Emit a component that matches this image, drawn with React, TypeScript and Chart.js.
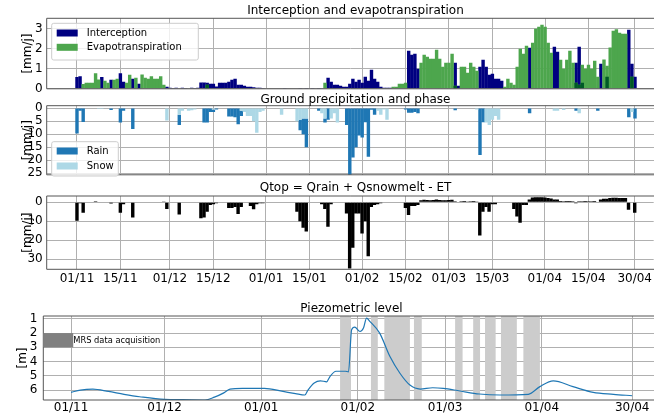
import React, { useEffect, useRef } from "react";
import { Chart, registerables } from "chart.js";

Chart.register(...registerables);

const FONT = "'DejaVu Sans', sans-serif";

// ---------------- data (day index 0 = 01/11) ----------------
const INTERCEPTION = [
  0.59, 0.63, 0, 0, 0, 0, 0, 0, 0.59, 0,
  0, 0.45, 0, 0, 0.78, 0.35, 0, 0, 0.5, 0,
  0.25, 0, 0, 0, 0, 0, 0, 0, 0, 0.1,
  0.05, 0.04, 0.05, 0.03, 0.05, 0.04, 0.03, 0.05, 0.04, 0.05,
  0.32, 0.32, 0.3, 0.25, 0.25, 0.12, 0.3, 0.3, 0.3, 0.35,
  0.45, 0.5, 0.2, 0.2, 0.15, 0.1, 0.1, 0.08, 0.05, 0.05,
  0.04, 0.03, 0.03, 0, 0.03, 0.03, 0, 0.04, 0.03, 0,
  0.03, 0.03, 0.02, 0.03, 0.02, 0.03, 0.02, 0.03, 0.02, 0.03,
  0, 0.55, 0.35, 0.2, 0.2, 0.15, 0.1, 0.1, 0.25, 0.5,
  0.35, 0.45, 0.3, 0.6, 0.4, 0.95, 0.5, 0.35, 0.1, 0.05,
  0.05, 0.05, 0, 0, 0, 0, 0, 1.9, 1.7, 1.75,
  1.0, 0, 0, 0, 0, 0, 0, 0, 0, 0,
  0, 0, 1.3, 0.15, 0, 0, 0, 0, 0, 0,
  1.1, 1.45, 1.1, 0.7, 0.75, 0.5, 0.5, 0.4, 0, 0,
  0, 0, 0, 0, 0, 0, 2.05, 0, 0, 0,
  0, 0, 0, 0, 2.1, 1.85, 0, 0, 0, 0,
  0, 1.3, 2.1, 0.3, 0, 0, 0, 0, 0, 1.25,
  0, 0.6, 0, 0, 0, 0, 0, 0, 2.95, 1.25,
  0.6,
];

const EVAPOTRANSPIRATION = [
  0, 0, 0.24, 0.3, 0.3, 0.3, 0.78, 0.46, 0, 0.4,
  0.3, 0, 0.45, 0.5, 0, 0, 0.3, 0.7, 0, 0.55,
  0, 0.72, 0.55, 0.5, 0.63, 0.5, 0.5, 0.63, 0.2, 0,
  0, 0, 0, 0, 0, 0, 0, 0, 0, 0,
  0, 0, 0.2, 0, 0, 0, 0, 0, 0, 0,
  0, 0, 0, 0, 0, 0, 0, 0, 0, 0,
  0, 0, 0, 0, 0, 0, 0, 0, 0, 0,
  0, 0, 0, 0, 0, 0, 0, 0, 0, 0,
  0.3, 0, 0, 0, 0, 0, 0, 0, 0, 0,
  0, 0, 0, 0, 0, 0, 0, 0, 0, 0,
  0, 0, 0.1, 0.1, 0.25, 0.25, 0.3, 0, 0, 0,
  0, 1.3, 1.7, 1.6, 1.5, 1.5, 1.95, 1.5, 1.1, 1.3,
  1.3, 1.75, 0.15, 0, 1.1, 1.1, 0.8, 1.3, 1.1, 0.9,
  0, 0, 0, 0, 0, 0, 0, 0, 0.1, 0.5,
  0.3, 0.2, 1.1, 2.0, 1.75, 2.15, 0, 2.3, 3.0, 3.1,
  3.2, 3.1, 2.3, 1.8, 0, 0, 1.45, 1.0, 1.45, 1.9,
  1.3, 0.3, 0.2, 1.2, 1.0, 1.2, 1.0, 1.4, 0.6, 0,
  1.46, 1.15, 2.06, 2.9, 2.97, 2.8, 2.75, 2.75, 0, 0.6,
  0,
];

const RAIN = [
  9.7, 1, 5.3, 0, 0, 0, 0, 0, 0, 0,
  0, 0.7, 0, 0, 5.5, 1, 0, 0, 8, 0,
  0, 0, 0, 0, 0, 0, 0, 0, 0, 0,
  0, 0, 0, 4, 0, 0, 0, 0, 0, 0,
  0, 5.5, 5.5, 1.5, 1, 0.5, 0, 0, 0, 3.2,
  3.2, 3.5, 6.2, 2, 0, 0, 0, 0, 0, 0,
  0, 0, 0, 0, 0, 0, 0, 0, 0, 0,
  0, 0, 4, 6, 11, 0, 0, 0, 1, 0,
  1.5, 4.5, 0, 0, 0, 0, 0, 6.5, 25.8, 19,
  15, 10.5, 11.3, 5.4, 18.7, 0.6, 2.5, 0, 0, 0,
  0, 0, 0, 0, 0, 0, 0.5, 1.8, 1.8, 1.5,
  2, 0, 0, 0, 0, 0, 0, 0, 0, 0,
  0, 0, 0.8, 0, 0, 0, 0, 0, 0, 0,
  18, 5.4, 0, 0, 0, 0, 0, 0, 0, 0,
  0, 0, 0, 0, 0, 0, 2, 0, 0, 0,
  0, 0, 0, 0, 0, 0, 0, 0, 0, 0,
  0, 1, 0, 0, 0, 0, 0, 0, 1, 0,
  0, 0, 0, 0, 0, 0, 0, 0, 3.5, 0,
  4,
];

const SNOW_DAYS = [7, 8, 29, 33, 34, 36, 37, 38, 44, 53, 54, 55, 56, 57, 58, 59, 60, 66, 71, 72, 73, 74, 79, 80, 82, 83, 84, 97, 98, 99, 100, 129, 132, 133, 134, 135, 136, 154, 155, 157, 162, 179];
const SNOW_VALUES = [0.3, 0.3, 4.8, 2.5, 1, 1, 0.8, 0.5, 0.5, 1, 1.5, 3, 3, 5, 9.5, 1.5, 1, 2.5, 5, 4.5, 4, 4, 2, 4, 4, 2, 5.5, 1, 2.5, 0.5, 4.5, 0.5, 5.5, 6.5, 4.5, 3, 4.5, 1, 1, 0.7, 2, 1.5];

const QTOP = [
  9.8, 0.5, 5.5, 0, 0, 0, -0.5, -0.3, -0.3, -0.3,
  -0.3, 0.7, -0.3, -0.3, 5.5, 1, -0.3, -0.3, 8, -0.2,
  -0.2, -0.3, -0.3, -0.2, -0.3, -0.2, -0.3, -0.2, -0.1, 3.5,
  0, 0, 0, 6.5, 0, 0, 0, 0, 0, 0,
  8.5, 8, 5, 1.5, 1, 0.5, 0, 0, 0, 3,
  3, 2.5, 6.2, 2.5, 0, 0, 2, 3.7, 1, 0.5,
  0.5, 0, 0, 0, 0, 0, 0, 0, 0, 0,
  0, 5, 10, 13.5, 15.5, 0, 0, 0, 0, 1,
  3.5, 13, 1, 0, 0, 0, 0, 6, 35, 24,
  6, 6, 16.5, 10, 28.5, 2.5, 1.5, 1, 0.5, 0.3,
  0, 0, 0, 0, 0, 0, 3, 6.7, 2, 2,
  1.5, -1, -1.3, -1.2, -1.1, -1.2, -1.4, -1.2, -1, -1.1,
  -1.2, -1.3, -0.5, -0.3, -0.5, -0.6, -0.4, -0.5, -0.6, -0.4,
  17.5, 5, 2.5, 5, 1, 1, 0, 0, 0.3, 0,
  0, 3.5, 7.5, 10.8, 1.5, 1.5, -1.5, -2.5, -2.6, -2.6,
  -2.6, -2.5, -2.3, -2, -1.5, -1.5, -0.7, -0.5, -0.7, -0.7,
  -0.5, 0.5, -0.5, -0.5, -0.6, -0.5, -0.5, -0.6, -0.3, -1.5,
  -1.8, -1.8, -2.3, -2.4, -2.4, -2.3, -2.3, -2.3, 4, 0,
  5.5,
];

const PIEZO_DAYS = [0, 3, 7, 12, 17, 22, 30, 36, 43, 46, 49, 51, 55, 62, 68, 72, 75, 76, 78, 80, 82, 83, 85, 88, 89, 90, 91, 92.7, 93.8, 94.8, 95.9, 99, 102.3, 105.5, 108.7, 112, 116, 119.4, 124.8, 131, 137.6, 146.7, 150.4, 154.7, 161, 167.5, 174, 180];
const PIEZO_LEVEL = [6.16, 6.0, 5.93, 6.1, 6.3, 6.47, 6.66, 6.68, 6.7, 6.5, 6.2, 5.93, 5.88, 5.88, 6.1, 6.25, 6.35, 6.0, 5.5, 5.35, 5.42, 5.07, 4.68, 4.68, 4.72, 1.77, 1.58, 1.89, 1.65, 0.95, 1.19, 2.0, 3.65, 4.82, 5.65, 5.93, 5.84, 5.88, 6.07, 6.28, 6.35, 6.3, 5.76, 5.36, 5.76, 6.16, 6.3, 6.4];

const BAND_START = [86.3, 96.2, 100.5, 110, 123.2, 129, 132.8, 137.9, 145.1];
const BAND_END = [89.8, 98.4, 108.7, 112.5, 125.6, 131.2, 136.2, 143, 150.4];

const TOP_TICK_DAYS = [0, 14, 30, 44, 61, 75, 92, 106, 120, 134, 151, 165, 180];
const TOP_TICK_LABELS = ["01/11", "15/11", "01/12", "15/12", "01/01", "15/01", "01/02", "15/02", "01/03", "15/03", "01/04", "15/04", "30/04"];
const PIEZO_TICK_DAYS = [0, 30, 61, 92, 120, 151, 180];
const PIEZO_TICK_LABELS = ["01/11", "01/12", "01/01", "01/02", "01/03", "01/04", "30/04"];

const Y_TICKS_ET = [0, 1, 2, 3];
const Y_TICKS_PRECIP = [0, 5, 10, 15, 20, 25];
const Y_TICKS_QTOP = [0, 10, 20, 30];
const Y_TICKS_PIEZO = [1, 2, 3, 4, 5, 6];

// ---------------- styling ----------------
const GRID = "#b0b0b0";
const FRAME = "#555555";
const NAVY = "#000080";
const GREEN = "rgb(77,166,77)";
const DARK_GREEN = "rgb(0,90,38)";
const RAIN_C = "#1f77b4";
const SNOW_C = "#add8e6";

const DAYS = INTERCEPTION.map((_, i) => i);
const SNOW = DAYS.map((d) => {
  const k = SNOW_DAYS.indexOf(d);
  return k >= 0 ? SNOW_VALUES[k] : 0;
});
// part where the translucent ET bar overlaps the interception bar
const OVERLAP = DAYS.map((d) => Math.min(INTERCEPTION[d], EVAPOTRANSPIRATION[d]));
const pts = (arr: number[]) => arr.map((v, i) => ({ x: i, y: v }));

type LegendSpec = {
  x: number; y: number; w: number; h: number; rows: number[];
  items: { label: string; color: string }[];
};
type Deco = {
  title: string; titleX: number; titleY: number;
  yLabel: string; yLabelX: number;
  legend?: LegendSpec;
  bands?: boolean;
  mrs?: boolean;
};

function makeDecor(d: Deco) {
  return {
    id: "decor",
    beforeDatasetsDraw(chart: any) {
      if (!d.bands) return;
      const { ctx, chartArea: a } = chart;
      const xs = chart.scales.x;
      ctx.save();
      ctx.fillStyle = "#cccccc";
      BAND_START.forEach((s, i) => {
        const x0 = xs.getPixelForValue(s);
        const x1 = xs.getPixelForValue(BAND_END[i]);
        ctx.fillRect(x0, a.top, x1 - x0, a.bottom - a.top);
      });
      ctx.restore();
    },
    afterDraw(chart: any) {
      const { ctx, chartArea: a } = chart;
      ctx.save();
      ctx.strokeStyle = FRAME;
      ctx.lineWidth = 1;
      ctx.beginPath();
      ctx.moveTo(a.right + 5, a.top);
      ctx.lineTo(a.left, a.top);
      ctx.lineTo(a.left, a.bottom);
      ctx.lineTo(a.right + 5, a.bottom);
      ctx.stroke();

      ctx.fillStyle = "#000";
      ctx.font = `12px ${FONT}`;
      ctx.textAlign = "center";
      ctx.textBaseline = "middle";
      ctx.fillText(d.title, d.titleX, d.titleY);

      ctx.save();
      ctx.translate(d.yLabelX, (a.top + a.bottom) / 2);
      ctx.rotate(-Math.PI / 2);
      ctx.fillText(d.yLabel, 0, 0);
      ctx.restore();

      if (d.mrs) {
        const xs = chart.scales.x;
        const ys = chart.scales.y;
        const x0 = a.left;
        const x1 = xs.getPixelForValue(0.7);
        const y0 = ys.getPixelForValue(2);
        const y1 = ys.getPixelForValue(3);
        ctx.fillStyle = "#808080";
        ctx.fillRect(x0, y0, x1 - x0, y1 - y0);
        ctx.fillStyle = "#000";
        ctx.font = `8.3px ${FONT}`;
        ctx.textAlign = "left";
        ctx.fillText("MRS data acquisition", x1, ys.getPixelForValue(2.55));
      }

      if (d.legend) {
        const L = d.legend;
        ctx.fillStyle = "rgba(255,255,255,0.8)";
        ctx.strokeStyle = "#cccccc";
        ctx.lineWidth = 1;
        ctx.beginPath();
        (ctx as any).roundRect(L.x, L.y, L.w, L.h, 2);
        ctx.fill();
        ctx.stroke();
        ctx.font = `10px ${FONT}`;
        ctx.textAlign = "left";
        ctx.textBaseline = "middle";
        L.items.forEach((it, i) => {
          const cy = L.rows[i];
          ctx.fillStyle = it.color;
          ctx.fillRect(L.x + 5, cy - 3.5, 21, 7);
          ctx.fillStyle = "#000";
          ctx.fillText(it.label, L.x + 35, cy);
        });
      }
      ctx.restore();
    },
  };
}

type Spec = {
  type: "bar" | "line";
  datasets: any[];
  plotTop: number; plotLeft: number; xHeight: number;
  xmin: number; xmax: number; ymin: number; ymax: number; reverse: boolean;
  xTicks: number[]; xLabels: string[]; showXLabels: boolean; xPad: number;
  yTicks: number[]; yPad: number; stacked?: boolean;
  decor: Deco;
};

function makeChart(canvas: HTMLCanvasElement, s: Spec) {
  const tickFont = { size: 12, family: FONT };
  return new Chart(canvas, {
    type: s.type,
    data: { datasets: s.datasets },
    options: {
      responsive: false,
      animation: false,
      devicePixelRatio: 1,
      events: [],
      layout: { padding: { top: s.plotTop, left: 0, right: 0, bottom: 0 }, autoPadding: false },
      plugins: { legend: { display: false }, tooltip: { enabled: false }, title: { display: false } },
      scales: {
        x: {
          type: "linear",
          min: s.xmin,
          max: s.xmax,
          offset: false,
          stacked: !!s.stacked,
          afterBuildTicks: (sc: any) => {
            sc.ticks = s.xTicks.map((v) => ({ value: v }));
          },
          afterFit: (sc: any) => {
            sc.height = s.xHeight;
          },
          grid: { color: GRID, lineWidth: 1, drawTicks: false, offset: false },
          border: { display: false },
          ticks: {
            display: s.showXLabels,
            padding: s.xPad,
            font: tickFont,
            color: "#000",
            maxRotation: 0,
            minRotation: 0,
            autoSkip: false,
            callback: (_v: any, i: number) => s.xLabels[i],
          },
        },
        y: {
          type: "linear",
          min: s.ymin,
          max: s.ymax,
          reverse: s.reverse,
          stacked: !!s.stacked,
          afterBuildTicks: (sc: any) => {
            sc.ticks = s.yTicks.map((v) => ({ value: v }));
          },
          afterFit: (sc: any) => {
            sc.width = s.plotLeft;
          },
          grid: { color: GRID, lineWidth: 1, drawTicks: false },
          border: { display: false },
          ticks: {
            padding: s.yPad,
            font: tickFont,
            color: "#000",
            autoSkip: false,
            callback: (v: any) => String(v),
          },
        },
      },
    } as any,
    plugins: [makeDecor(s.decor) as any],
  });
}

const barBase = { borderWidth: 0, barPercentage: 1.1, categoryPercentage: 1, grouped: false };

const TOP_X = { xmin: -9.77, xmax: 186.13, xTicks: TOP_TICK_DAYS, xLabels: TOP_TICK_LABELS };

export default function App() {
  const c1 = useRef<HTMLCanvasElement>(null);
  const c2 = useRef<HTMLCanvasElement>(null);
  const c3 = useRef<HTMLCanvasElement>(null);
  const c4 = useRef<HTMLCanvasElement>(null);

  useEffect(() => {
    const charts: Chart[] = [];
    charts.push(
      makeChart(c1.current!, {
        type: "bar",
        datasets: [
          { ...barBase, label: "overlap", data: pts(OVERLAP), backgroundColor: DARK_GREEN },
          { ...barBase, label: "Evapotranspiration", data: pts(EVAPOTRANSPIRATION), backgroundColor: GREEN },
          { ...barBase, label: "Interception", data: pts(INTERCEPTION), backgroundColor: NAVY },
        ],
        plotTop: 18.3, plotLeft: 46.7, xHeight: 100 - 92.3,
        ...TOP_X, showXLabels: false, xPad: 0,
        ymin: 0, ymax: 3.52, reverse: false, yTicks: Y_TICKS_ET, yPad: 4,
        decor: {
          title: "Interception and evapotranspiration", titleX: 355.5, titleY: 11,
          yLabel: "[mm/j]", yLabelX: 27.5,
          legend: {
            x: 51.7, y: 23.3, w: 146.6, h: 36.7, rows: [33, 47.3],
            items: [
              { label: "Interception", color: NAVY },
              { label: "Evapotranspiration", color: GREEN },
            ],
          },
        },
      })
    );
    charts.push(
      makeChart(c2.current!, {
        type: "bar",
        datasets: [
          { ...barBase, label: "Snow", data: pts(SNOW), backgroundColor: SNOW_C },
          { ...barBase, label: "Rain", data: pts(RAIN), backgroundColor: RAIN_C },
        ],
        stacked: true,
        plotTop: 17.7, plotLeft: 46.7, xHeight: 98 - 92,
        ...TOP_X, showXLabels: false, xPad: 0,
        ymin: -0.93, ymax: 25.6, reverse: true, yTicks: Y_TICKS_PRECIP, yPad: 4,
        decor: {
          title: "Ground precipitation and phase", titleX: 355.5, titleY: 12,
          yLabel: "[mm/j]", yLabelX: 27.5,
          legend: {
            x: 51.7, y: 53.7, w: 66.6, h: 34.3, rows: [63, 78],
            items: [
              { label: "Rain", color: RAIN_C },
              { label: "Snow", color: SNOW_C },
            ],
          },
        },
      })
    );
    charts.push(
      makeChart(c3.current!, {
        type: "bar",
        datasets: [{ ...barBase, label: "Qtop", data: pts(QTOP), backgroundColor: "#000000" }],
        plotTop: 18, plotLeft: 46.7, xHeight: 116 - 91.3,
        ...TOP_X, showXLabels: true, xPad: 2,
        ymin: -3.3, ymax: 35.4, reverse: true, yTicks: Y_TICKS_QTOP, yPad: 4,
        decor: {
          title: "Qtop = Qrain + Qsnowmelt - ET", titleX: 355.5, titleY: 10.3,
          yLabel: "[mm/j]", yLabelX: 27.5,
        },
      })
    );
    charts.push(
      makeChart(c4.current!, {
        type: "line",
        datasets: [
          {
            label: "Piezometric level",
            data: PIEZO_DAYS.map((d, i) => ({ x: d, y: PIEZO_LEVEL[i] })),
            borderColor: "#1f77b4",
            borderWidth: 1.2,
            pointRadius: 0,
            fill: false,
            cubicInterpolationMode: "monotone",
          },
        ],
        plotTop: 22, plotLeft: 43.3, xHeight: 125 - 106,
        xmin: -8.9, xmax: 187.0, xTicks: PIEZO_TICK_DAYS, xLabels: PIEZO_TICK_LABELS,
        showXLabels: true, xPad: 1,
        ymin: 0.8, ymax: 6.7, reverse: true, yTicks: Y_TICKS_PIEZO, yPad: 6,
        decor: {
          title: "Piezometric level", titleX: 351.5, titleY: 15,
          yLabel: "[m]", yLabelX: 22.5, bands: true, mrs: true,
        },
      })
    );
    return () => charts.forEach((c) => c.destroy());
  }, []);

  const cs = (top: number) => ({ position: "absolute" as const, left: 0, top });
  return (
    <div style={{ position: "absolute", left: 0, top: 0, width: 654, height: 419, overflow: "hidden", background: "#fff" }}>
      <canvas ref={c1} width={654} height={100} style={cs(0)} />
      <canvas ref={c2} width={654} height={98} style={cs(88)} />
      <canvas ref={c3} width={654} height={116} style={cs(178)} />
      <canvas ref={c4} width={654} height={125} style={cs(294)} />
    </div>
  );
}
